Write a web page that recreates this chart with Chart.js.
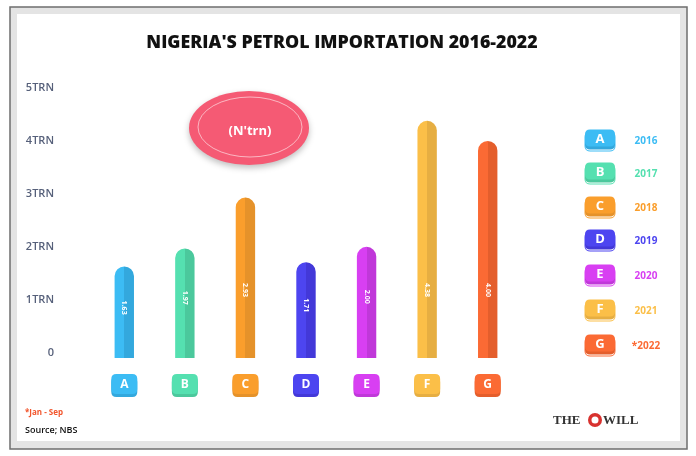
<!DOCTYPE html>
<html>
<head>
<meta charset="utf-8">
<script src="https://cdn.jsdelivr.net/npm/chart.js@4.4.1/dist/chart.umd.min.js"></script>
<style>
  html, body { margin: 0; padding: 0; background: #fff; }
  #wrap { width: 696px; height: 456px; }
</style>
</head>
<body>
<div id="wrap"><canvas id="petrol" width="696" height="456"></canvas></div>
<script>
const categories = ['A', 'B', 'C', 'D', 'E', 'F', 'G'];
const years = ['2016', '2017', '2018', '2019', '2020', '2021', '*2022'];
const values = [1.63, 1.97, 2.93, 1.71, 2.00, 4.38, 4.00];
const valueLabels = ['1.63', '1.97', '2.93', '1.71', '2.00', '4.38', '4.00'];
const yTicks = [0, 1, 2, 3, 4, 5];
const yTickLabels = ['0', '1TRN', '2TRN', '3TRN', '4TRN', '5TRN'];

const barColors = ['#3cbcf4', '#55e0b0', '#fa9e2c', '#4d45f0', '#d83ff2', '#fbbf48', '#fb6a34'];
const barShades = ['#33a8dd', '#4bc89c', '#e5922a', '#4338d8', '#c038d9', '#e6ae42', '#e45e2c'];
const BAR_PCT = 0.32;

function roundRect(ctx, x, y, w, h, r) {
    ctx.beginPath();
    ctx.moveTo(x + r, y);
    ctx.lineTo(x + w - r, y);
    ctx.quadraticCurveTo(x + w, y, x + w, y + r);
    ctx.lineTo(x + w, y + h - r);
    ctx.quadraticCurveTo(x + w, y + h, x + w - r, y + h);
    ctx.lineTo(x + r, y + h);
    ctx.quadraticCurveTo(x, y + h, x, y + h - r);
    ctx.lineTo(x, y + r);
    ctx.quadraticCurveTo(x, y, x + r, y);
    ctx.closePath();
}

function badge(ctx, cx, cy, w, h, color, shade, letter, size) {
    ctx.save();
    roundRect(ctx, cx - w / 2, cy - h / 2 + 3, w, h, 5);
    ctx.fillStyle = shade;
    ctx.fill();
    roundRect(ctx, cx - w / 2, cy - h / 2, w, h, 5);
    ctx.fillStyle = color;
    ctx.fill();
    ctx.fillStyle = '#ffffff';
    ctx.font = 'bold ' + size + 'px "Open Sans", sans-serif';
    ctx.textAlign = 'center';
    ctx.textBaseline = 'middle';
    ctx.fillText(letter, cx, cy + 1);
    ctx.restore();
}

// frame, title, unit bubble
const backdrop = {
    id: 'backdrop',
    beforeDraw(chart) {
        const ctx = chart.ctx;
        ctx.save();
        ctx.fillStyle = '#ffffff';
        ctx.fillRect(0, 0, 696, 456);
        ctx.fillStyle = '#e4e4e4';
        ctx.fillRect(10, 7, 677, 442);
        ctx.fillStyle = '#ffffff';
        ctx.fillRect(17, 14, 663, 427);
        ctx.strokeStyle = '#6e6e6e';
        ctx.lineWidth = 1.5;
        ctx.strokeRect(10, 7, 677, 442);

        ctx.fillStyle = '#111111';
        ctx.textAlign = 'center';
        ctx.textBaseline = 'middle';
        ctx.font = '800 15px "Open Sans", sans-serif';
        const tw = ctx.measureText("NIGERIA'S PETROL IMPORTATION 2016-2022").width;
        const fs = 15 * 391 / tw;
        ctx.font = '800 ' + fs.toFixed(1) + 'px "Open Sans", sans-serif';
        ctx.fillText("NIGERIA'S PETROL IMPORTATION 2016-2022", 342, 43);

        // (N'trn) bubble
        ctx.save();
        ctx.shadowColor = 'rgba(0,0,0,0.25)';
        ctx.shadowBlur = 6;
        ctx.shadowOffsetY = 3;
        ctx.beginPath();
        ctx.ellipse(249, 128, 60, 37, 0, 0, Math.PI * 2);
        ctx.fillStyle = '#f55a74';
        ctx.fill();
        ctx.restore();
        ctx.beginPath();
        ctx.ellipse(250, 127, 52, 30, 0, 0, Math.PI * 2);
        ctx.strokeStyle = 'rgba(255,255,255,0.7)';
        ctx.lineWidth = 0.8;
        ctx.stroke();
        ctx.fillStyle = '#ffffff';
        ctx.font = 'bold 13px "Open Sans", sans-serif';
        ctx.fillText("(N'trn)", 250, 131);
        ctx.restore();
    }
};

// values inside bars, letter badges, legend, footnotes
const decor = {
    id: 'decor',
    afterDatasetsDraw(chart) {
        const ctx = chart.ctx;
        const meta = chart.getDatasetMeta(0);
        ctx.save();
        ctx.fillStyle = '#ffffff';
        ctx.font = 'bold 7px "Open Sans", sans-serif';
        ctx.textAlign = 'center';
        ctx.textBaseline = 'middle';
        meta.data.forEach(function(bar, i) {
            const h = bar.base - bar.y;
            const cy = bar.base - Math.min(h * 0.55, 68);
            ctx.save();
            ctx.translate(bar.x, cy);
            ctx.rotate(Math.PI / 2);
            ctx.fillText(valueLabels[i], 0, 0);
            ctx.restore();
        });
        ctx.restore();

        const xs = chart.scales.x;
        categories.forEach(function(c, i) {
            badge(ctx, xs.getPixelForValue(i), 384, 26, 20, barColors[i], barShades[i], c, 12);
        });

        // legend column
        const rows = [140, 173, 207, 240, 275, 310, 345];
        ctx.save();
        categories.forEach(function(c, i) {
            ctx.save();
            roundRect(ctx, 585, rows[i] - 8, 30, 19, 5);
            ctx.strokeStyle = barColors[i];
            ctx.lineWidth = 1;
            ctx.stroke();
            ctx.restore();
            badge(ctx, 600, rows[i] - 2, 30, 17, barColors[i], barShades[i], c, 13);
            ctx.fillStyle = barColors[i];
            ctx.font = 'bold 10px "Open Sans", sans-serif';
            ctx.textAlign = 'center';
            ctx.textBaseline = 'middle';
            ctx.fillText(years[i], 646, rows[i] + 1);
        });
        ctx.restore();

        ctx.save();
        ctx.textAlign = 'left';
        ctx.textBaseline = 'middle';
        ctx.fillStyle = '#f2552c';
        ctx.font = 'bold 8px "Open Sans", sans-serif';
        ctx.fillText('*Jan - Sep', 25, 413);
        ctx.fillStyle = '#111111';
        ctx.font = '600 9px "Open Sans", sans-serif';
        ctx.fillText('Source; NBS', 25, 430);

        ctx.fillStyle = '#333333';
        ctx.font = 'bold 13px "Liberation Serif", serif';
        ctx.fillText('THE', 553, 421);
        ctx.beginPath();
        ctx.arc(595, 420, 7, 0, Math.PI * 2);
        ctx.fillStyle = '#d8322f';
        ctx.fill();
        ctx.beginPath();
        ctx.arc(595, 420, 3.5, 0, Math.PI * 2);
        ctx.fillStyle = '#ffffff';
        ctx.fill();
        ctx.fillStyle = '#333333';
        ctx.fillText('WILL', 603, 421);
        ctx.restore();
    }
};

function barFill(c) {
    const i = c.dataIndex;
    const xs = c.chart.scales.x;
    if (i === undefined || !xs) return barColors[0];
    const cx = xs.getPixelForValue(i);
    const w = xs.width / categories.length * BAR_PCT;
    if (!isFinite(cx) || !isFinite(w) || w <= 0) return barColors[i];
    const g = c.chart.ctx.createLinearGradient(cx - w / 2, 0, cx + w / 2, 0);
    g.addColorStop(0, barColors[i]);
    g.addColorStop(0.5, barColors[i]);
    g.addColorStop(0.5, barShades[i]);
    g.addColorStop(1, barShades[i]);
    return g;
}

var ctx = document.getElementById('petrol').getContext('2d');
var myChart = new Chart(ctx, {
    type: 'bar',
    data: {
        labels: categories,
        datasets: [{
            label: 'Petrol importation',
            data: values,
            base: -0.1,
            backgroundColor: barFill,
            borderWidth: 0,
            borderRadius: { topLeft: 10, topRight: 10, bottomLeft: 0, bottomRight: 0 },
            borderSkipped: 'start',
            barPercentage: BAR_PCT,
            categoryPercentage: 1
        }]
    },
    options: {
        responsive: false,
        animation: false,
        layout: { padding: { left: 0, right: 178, top: 88, bottom: 98 } },
        plugins: {
            legend: { display: false },
            title: { display: false },
            tooltip: { enabled: false }
        },
        scales: {
            x: {
                grid: { display: false },
                border: { display: false },
                ticks: { display: false },
                afterFit: function(s) { s.height = 0; }
            },
            y: {
                min: -0.1,
                max: 5,
                grid: { display: false },
                border: { display: false },
                afterBuildTicks: function(s) {
                    s.ticks = yTicks.map(function(v) { return { value: v }; });
                },
                afterFit: function(s) { s.width = 94; },
                ticks: {
                    padding: 32,
                    color: '#56607a',
                    font: { family: '"Open Sans", sans-serif', size: 11, weight: '600' },
                    callback: function(v) {
                        const k = yTicks.indexOf(v);
                        return k >= 0 ? yTickLabels[k] : '';
                    }
                }
            }
        }
    },
    plugins: [backdrop, decor]
});
</script>
</body>
</html>
